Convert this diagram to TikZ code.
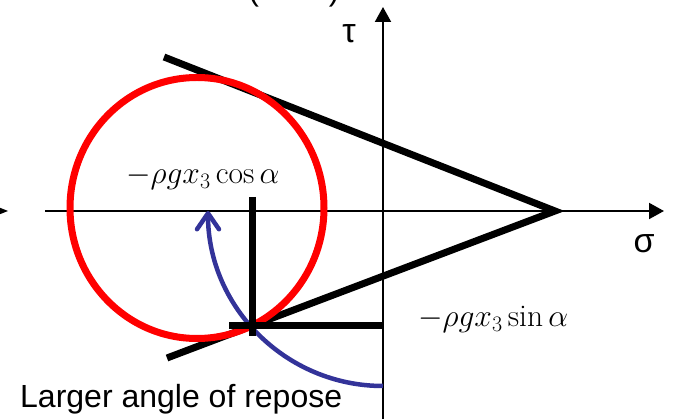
\RequirePackage{fix-cm}
\documentclass[tikz,border=0pt]{standalone}
\usepackage{fontspec}
\newfontfamily\sff{Liberation Sans}
\usetikzlibrary{arrows.meta}
\definecolor{arcblue}{RGB}{51,51,153}
\begin{document}
\begin{tikzpicture}[x=1pt,y=-1pt,
  axisline/.style={line width=2pt,-{Triangle[length=15pt,width=16pt]}},
  heavy/.style={line width=7pt},
  mohr/.style={line width=7pt,draw=red},
  anglearc/.style={line width=4.5pt,draw=arcblue,-{Straight Barb[length=16pt,width=22pt,round]}},
  mathlbl/.style={font=\fontsize{31.5}{36}\selectfont,inner sep=0pt},
  greeklbl/.style={font=\sff\fontsize{34}{40}\selectfont,inner sep=0pt},
  caption/.style={font=\sff\fontsize{32}{38}\selectfont,inner sep=0pt}]
\useasboundingbox (0,0) rectangle (673,419);
\clip (0,0) rectangle (673,419);
% named points
\coordinate (O) at (383,211);
\coordinate (hl) at (45,211);
\coordinate (hr) at (664,211);
\coordinate (vb) at (383,425);
\coordinate (vt) at (383,7);
\coordinate (apex) at (555,211);
\coordinate (up) at (164,57);
\coordinate (lo) at (167,358);
\coordinate (T) at (252,326);
\coordinate (vtop) at (252,197);
\coordinate (vbot) at (252,336);
\coordinate (hleft) at (229,326);
\coordinate (hright) at (383,326);
\coordinate (C) at (197,208);
\coordinate (arcstart) at (383,386);
% cut-off bits at the edges
\node[font=\sff\fontsize{32}{38}\selectfont,anchor=base,inner sep=0pt] (paren) at (294,1) {(\hspace{70pt})};
\fill (8,211) -- (-7,205) -- (-7,217) -- cycle;
% axes
\draw[axisline] (hl) -- (hr);
\draw[axisline] (vb) -- (vt);
% failure lines
\draw[heavy] (up) -- (apex) -- (lo);
% Mohr circle
\draw[mohr] (C) ellipse [x radius=127, y radius=130.5];
% angle arc
\draw[anglearc] (arcstart) arc[start angle=90,end angle=180,radius=175];
% cross at tangent point
\draw[heavy] (vtop) -- (vbot);
\draw[heavy] (hleft) -- (hright);
% labels
\node[greeklbl] (tau) at (349,34) {τ};
\node[greeklbl] (sigma) at (644,244) {σ};
\node[mathlbl,anchor=base west] (cosl) at (126,184) {$-\rho g x_3\cos\alpha$};
\node[mathlbl,anchor=base west] (sinl) at (418,327) {$-\rho g x_3\sin\alpha$};
\node[caption,anchor=base west] (cap) at (20,408) {Larger angle of repose};
\end{tikzpicture}
\end{document}
